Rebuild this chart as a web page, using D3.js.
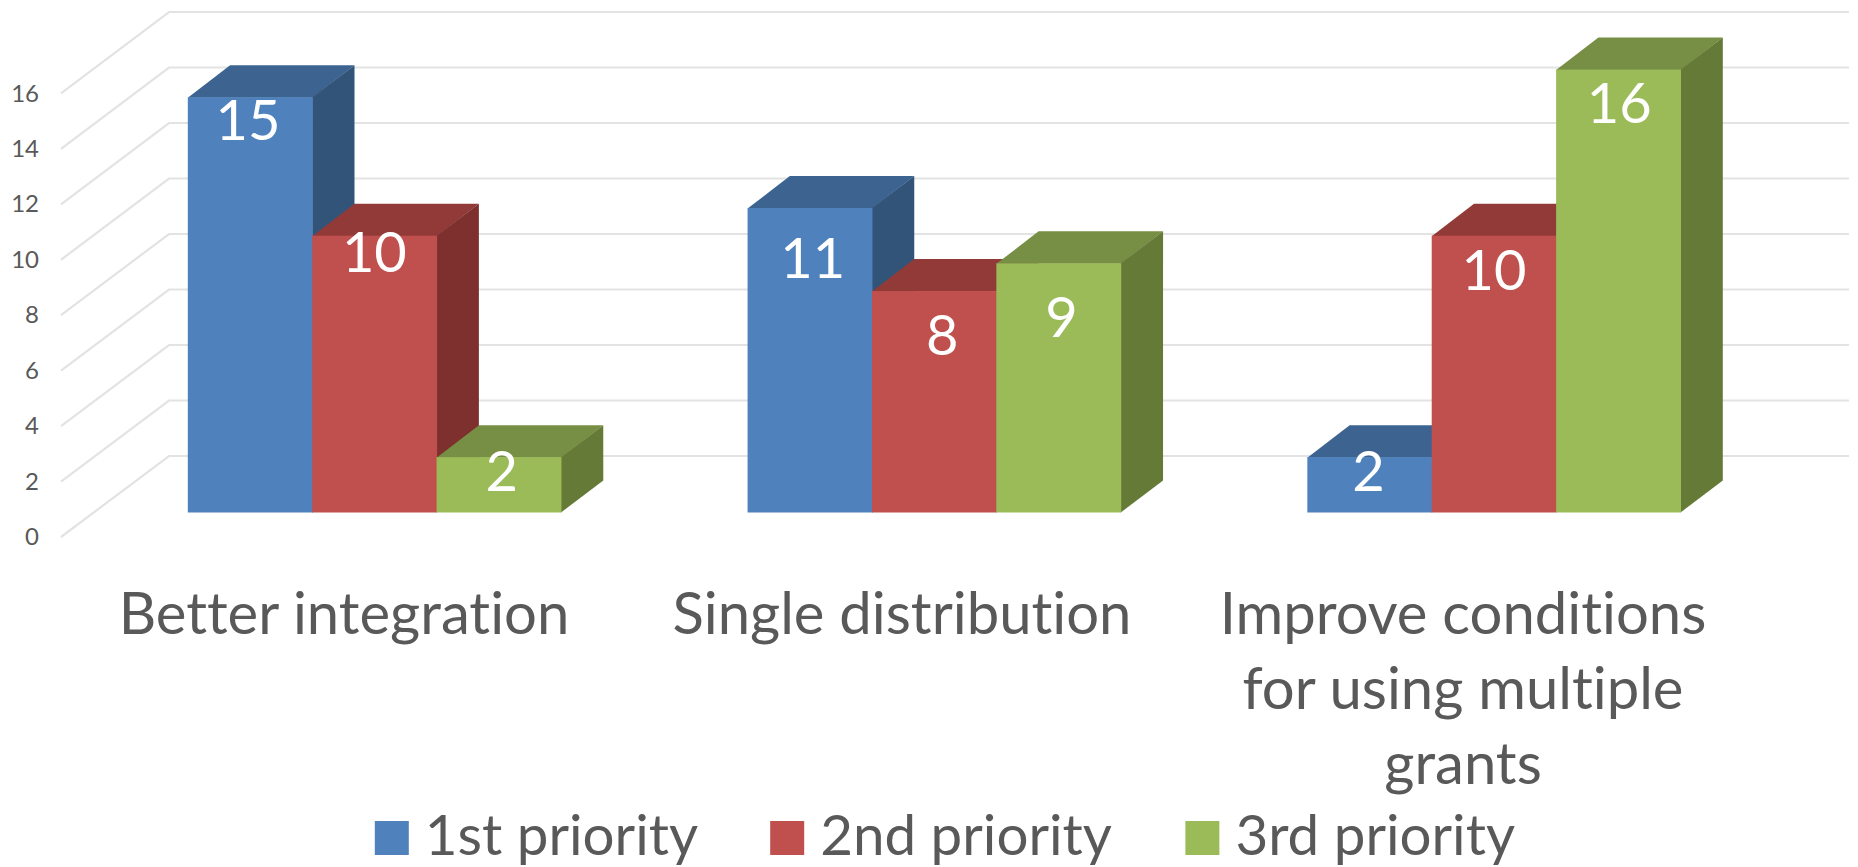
<!DOCTYPE html>
<html>
<head>
<meta charset="utf-8">
<script src="https://cdn.jsdelivr.net/npm/d3@7/dist/d3.min.js"></script>
<style>
    html, body { margin: 0; padding: 0; background: #fff; }
    svg { display: block; }
    text { font-family: Lato, sans-serif; fill: #595959; font-variant-ligatures: none; }
</style>
</head>
<body>
<svg id="chart" width="1858" height="867"></svg>
<script>
const categories = ["Better integration", "Single distribution", "Improve conditions for using multiple grants"];
const categoryLines = [["Better integration"], ["Single distribution"], ["Improve conditions", "for using multiple", "grants"]];
const seriesNames = ["1st priority", "2nd priority", "3rd priority"];
const firstPriority = [15, 11, 2];
const secondPriority = [10, 8, 10];
const thirdPriority = [2, 9, 16];
const tickValues = [0, 2, 4, 6, 8, 10, 12, 14, 16];

const seriesValues = [firstPriority, secondPriority, thirdPriority];
const frontColors = ["#4f81bd", "#c0504d", "#9bbb59"];
const topColors = ["#3d6490", "#923a38", "#778e45"];
const sideColors = ["#325479", "#7d302e", "#657a36"];

// data labels were hand placed in the original, [dx, dy] from bar centre / bar top
const labelNudge = [
    [[-2, 23], [3, 50], [-1, 14]],
    [[0, 17], [8, 44], [0, 35]],
    [[3, 14], [3, 54], [1, 34]]
];

const svg = d3.select("#chart");

const x = d3.scaleBand().domain(categories).range([187.8, 1680.5]).paddingInner(1 / 3);
const xBar = d3.scaleBand().domain(seriesNames).range([0, x.bandwidth()]);

const yBar = d3.scaleLinear().domain([0, 16]).range([512.5, 69.6]);
const yWall = d3.scaleLinear().domain([0, 16]).range([456, 12]);
const yFront = d3.scaleLinear().domain([0, 16]).range([537, 93.4]);

const wallLeft = 169, wallRight = 1849, floorLeft = 61;
const depthX = 42.3, depthY = 32;

const grid = svg.append("g").attr("class", "grid")
    .attr("fill", "none").attr("stroke", "#e3e3e3").attr("stroke-width", 2.2);

grid.selectAll("path").data(tickValues).enter().append("path")
    .attr("d", (d) => "M" + floorLeft + "," + yFront(d) + "L" + wallLeft + "," + yWall(d) + "L" + wallRight + "," + yWall(d));

const axis = d3.axisLeft(yFront).tickValues(tickValues).tickSize(0).tickPadding(0);
const axisG = svg.append("g").attr("transform", "translate(39,0)").call(axis);
axisG.select(".domain").remove();
axisG.selectAll("text").style("font-size", "24px").style("font-family", "Lato, sans-serif").style("fill", "#595959");

seriesNames.forEach((name, s) => {
    const g = svg.append("g").attr("class", "series");
    categories.forEach((cat, c) => {
        const v = seriesValues[s][c];
        const x0 = x(cat) + xBar(name);
        const x1 = x0 + xBar.bandwidth();
        const y0 = yBar(v);
        const y1 = yBar(0);

        g.append("polygon").attr("fill", topColors[s])
            .attr("points", [[x0, y0 + 0.5], [x0 + depthX, y0 - depthY], [x1 + depthX, y0 - depthY], [x1, y0 + 0.5]].join(" "));
        g.append("polygon").attr("fill", sideColors[s])
            .attr("points", [[x1, y0], [x1 + depthX, y0 - depthY], [x1 + depthX, y1 - depthY], [x1, y1]].join(" "));
        g.append("rect").attr("fill", frontColors[s])
            .attr("x", x0).attr("y", y0).attr("width", xBar.bandwidth() + 0.5).attr("height", y1 - y0);
    });
});

// labels go on last so later bars can't cover them
seriesNames.forEach((name, s) => {
    categories.forEach((cat, c) => {
        const v = seriesValues[s][c];
        svg.append("text")
            .attr("x", x(cat) + xBar(name) + xBar.bandwidth() / 2 + labelNudge[s][c][0])
            .attr("y", yBar(v) + labelNudge[s][c][1])
            .attr("dy", "0.35em")
            .attr("text-anchor", "middle")
            .style("font-size", "56px")
            .style("fill", "#fff")
            .text(v);
    });
});

const lineY = d3.scaleLinear().domain([0, 1]).range([634, 709]);
const labelX = [344, 902, 1463];
categoryLines.forEach((lines, c) => {
    lines.forEach((line, i) => {
        svg.append("text")
            .attr("x", labelX[c])
            .attr("y", lineY(i))
            .attr("text-anchor", "middle")
            .style("font-size", "58px")
            .text(line);
    });
});

const legendX = [374.8, 770.2, 1185.4];
seriesNames.forEach((name, s) => {
    svg.append("rect")
        .attr("x", legendX[s]).attr("y", 821).attr("width", 34).attr("height", 34)
        .attr("fill", frontColors[s]);
    svg.append("text")
        .attr("x", legendX[s] + 50).attr("y", 855)
        .style("font-size", "56.5px")
        .text(name);
});
</script>
</body>
</html>
